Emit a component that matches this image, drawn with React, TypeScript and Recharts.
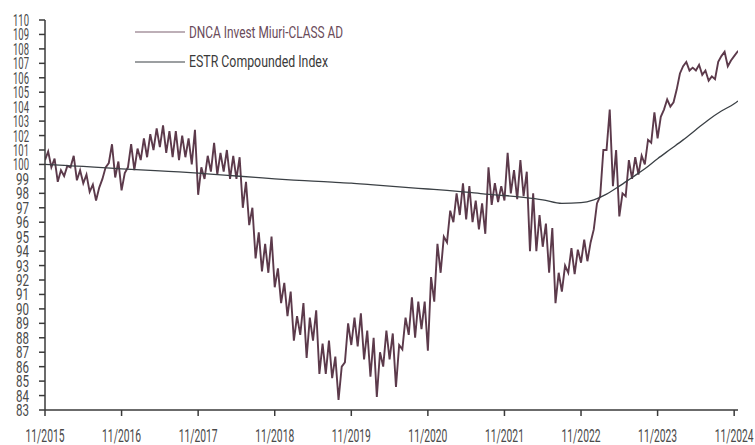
import { LineChart, Line, XAxis, YAxis, Legend } from "recharts";

const FUND_COLOR = "#5c3a4b";
const ESTR_COLOR = "#3b4045";
const AXIS_COLOR = "#3a3a3a";
const LABEL_COLOR = "#4a4a4a";
const FONT = "Roboto, 'Liberation Sans', sans-serif";

// fund values, one every half month from 11/2015
const fundValues = [
  100.3, 100.9, 99.8, 100.4, 98.8, 99.6, 99.2, 99.9, 99.8, 100.6, 98.9, 99.6,
  98.7, 99.3, 98.1, 98.6, 97.5, 98.4, 99.0, 99.8, 100.1, 101.4, 99.1, 100.2,
  98.2, 99.4, 99.8, 101.4, 99.6, 101.1, 100.3, 101.8, 100.5, 102.1, 101.0, 102.5,
  101.2, 102.7, 100.8, 102.3, 100.5, 102.3, 100.3, 102.0, 100.5, 101.8, 100.0, 102.4,
  97.9, 99.8, 99.0, 100.6, 99.5, 101.5, 99.3, 100.8, 99.5, 101.0, 99.0, 100.6,
  99.0, 100.5, 97.0, 98.8, 95.8, 97.0, 93.5, 95.3, 92.6, 94.5, 92.5, 95.0,
  91.5, 92.8, 90.4, 91.8, 89.5, 91.2, 87.8, 89.5, 88.2, 90.4, 86.6, 89.4,
  87.8, 89.9, 85.5, 87.6, 85.5, 87.8, 85.2, 86.7, 83.7, 86.0, 86.3, 89.0,
  87.5, 89.4, 87.4, 89.7, 86.5, 88.5, 85.3, 88.0, 83.9, 87.0, 86.0, 88.5,
  86.5, 88.3, 84.6, 87.5, 87.2, 89.4, 88.2, 90.8, 88.0, 90.5, 88.6, 90.5,
  87.1, 92.2, 90.5, 94.5, 92.5, 95.0, 94.6, 96.8, 96.0, 98.0, 96.5, 98.7,
  96.2, 98.5, 96.0, 97.5, 95.5, 97.3, 95.2, 99.8, 97.2, 98.7, 97.4, 98.5,
  97.5, 100.8, 98.0, 99.6, 97.6, 100.3, 97.8, 99.5, 94.0, 98.0, 94.0, 96.5,
  94.3, 95.9, 92.5, 95.6, 90.4, 92.5, 91.2, 93.0, 92.5, 94.2, 92.4, 94.1,
  93.2, 94.8, 93.3, 94.6, 95.5, 97.3, 97.8, 101.0, 101.0, 103.8, 98.5, 101.0,
  96.4, 98.0, 97.8, 100.3, 99.0, 100.5, 99.3, 100.6, 100.0, 101.7, 101.5, 103.6,
  101.8, 103.3, 103.8, 104.5, 104.0, 104.3, 105.2, 106.3, 106.8, 107.1, 106.5, 106.7,
  106.5, 106.9, 106.2, 106.5, 105.8, 106.1, 105.9, 107.1, 107.5, 107.8, 106.8, 107.2,
  107.5, 107.8, 108.0,
];

// months since 11/2015
const estrMonths = [
  0, 3, 6, 9, 12, 15, 18, 21, 24, 27, 30, 33, 36, 39, 42, 45, 48, 51, 54, 57,
  60, 63, 66, 69, 72, 75, 78, 81, 84, 86, 88, 90, 92, 94, 96, 98, 100, 102,
  104, 106, 108, 108.6,
];
const estrValues = [
  100.0, 99.93, 99.86, 99.78, 99.7, 99.63, 99.55, 99.48, 99.4, 99.3, 99.2, 99.1,
  99.0, 98.92, 98.85, 98.77, 98.7, 98.6, 98.5, 98.4, 98.3, 98.2, 98.08, 97.95,
  97.85, 97.72, 97.55, 97.3, 97.35, 97.55, 97.95, 98.5, 99.1, 99.7, 100.4, 101.05,
  101.7, 102.4, 103.1, 103.7, 104.2, 104.4,
];

const xTicks = [0, 12, 24, 36, 48, 60, 72, 84, 96, 108];
const xTickLabels = [
  "11/2015", "11/2016", "11/2017", "11/2018", "11/2019",
  "11/2020", "11/2021", "11/2022", "11/2023", "11/2024",
];
const yTicks = [
  83, 84, 85, 86, 87, 88, 89, 90, 91, 92, 93, 94, 95, 96,
  97, 98, 99, 100, 101, 102, 103, 104, 105, 106, 107, 108, 109, 110,
];

const fundData = fundValues.map((v, i) => ({ m: i * 0.5, v }));
const estrData = estrMonths.map((m, i) => ({ m, v: estrValues[i] }));

function XTick({ x, y, payload }: any) {
  const label = xTickLabels[xTicks.indexOf(payload.value)];
  return (
    <text x={x} y={y + 24} textAnchor="middle" fontSize={18} fontFamily={FONT}
      fill={LABEL_COLOR} textLength={39} lengthAdjust="spacingAndGlyphs">
      {label}
    </text>
  );
}

function YTick({ x, y, payload }: any) {
  const label = String(payload.value);
  return (
    <text x={x} y={y + 6} textAnchor="end" fontSize={17} fontFamily={FONT}
      fill={LABEL_COLOR} textLength={label.length > 2 ? 16 : 13} lengthAdjust="spacingAndGlyphs">
      {label}
    </text>
  );
}

function ChartLegend() {
  return (
    <svg width={400} height={70}>
      <line x1={5} x2={55} y1={22} y2={22} stroke="#7d6170" strokeWidth={1.2} />
      <text x={59} y={28} fontSize={17} fontFamily={FONT} fill="#6a4b5a"
        textLength={154} lengthAdjust="spacingAndGlyphs">DNCA Invest Miuri-CLASS AD</text>
      <line x1={5} x2={55} y1={52} y2={52} stroke={ESTR_COLOR} strokeWidth={1.2} />
      <text x={59} y={57} fontSize={17} fontFamily={FONT} fill="#3a3a3a"
        textLength={139} lengthAdjust="spacingAndGlyphs">ESTR Compounded Index</text>
    </svg>
  );
}

export default function App() {
  return (
    <div style={{ position: "absolute", left: 0, top: 0, width: 755, height: 445, background: "#fff" }}>
      <LineChart width={755} height={445} margin={{ top: 20, right: 17, bottom: 5, left: 0 }}>
        <XAxis dataKey="m" type="number" domain={[0, 108.6]} allowDataOverflow ticks={xTicks}
          interval={0} height={30} tickSize={6} tick={<XTick />}
          stroke={AXIS_COLOR} strokeWidth={1.5} />
        <YAxis type="number" domain={[83, 110]} ticks={yTicks} interval={0} width={45}
          tickSize={6} tickMargin={10} tick={<YTick />} stroke={AXIS_COLOR} strokeWidth={1.5} />
        <Legend layout="horizontal" verticalAlign="middle" align="center"
          wrapperStyle={{ left: 130, top: 10, width: 400, height: 70 }} content={<ChartLegend />} />
        <Line data={fundData} dataKey="v" type="linear" stroke={FUND_COLOR} strokeWidth={1.9}
          strokeLinejoin="miter" dot={false} isAnimationActive={false} />
        <Line data={estrData} dataKey="v" type="monotone" stroke={ESTR_COLOR} strokeWidth={1.3}
          dot={false} isAnimationActive={false} />
      </LineChart>
    </div>
  );
}
